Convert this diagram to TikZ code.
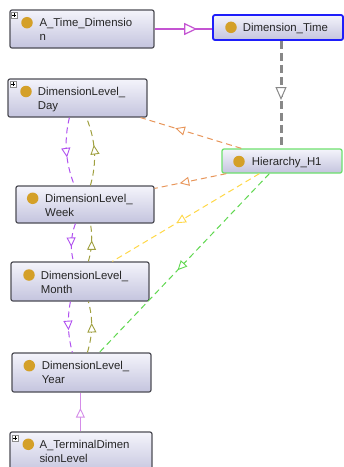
\documentclass[tikz,border=0pt]{standalone}
\usepackage{fontspec}
\setmainfont{Liberation Sans}
\usetikzlibrary{arrows.meta,decorations.markings,calc,fit}

\definecolor{boxtop}{RGB}{244,244,251}
\definecolor{boxbot}{RGB}{196,196,222}
\definecolor{boxline}{RGB}{78,78,86}
\definecolor{dotgold}{RGB}{212,160,40}
\definecolor{subviolet}{RGB}{196,84,210}
\definecolor{termviolet}{RGB}{212,140,232}
\definecolor{dimblue}{RGB}{30,30,250}
\definecolor{hiergreen}{RGB}{110,225,110}
\definecolor{levpurple}{RGB}{176,80,240}
\definecolor{levolive}{RGB}{160,160,64}
\definecolor{hierorange}{RGB}{232,150,90}
\definecolor{hieryellow}{RGB}{255,216,70}
\definecolor{hiergreenln}{RGB}{96,216,80}
\definecolor{typegray}{RGB}{136,136,136}

% one class box: name, corner, corner, box style, dot centre, text corner, text
\newcommand\owlclass[7]{%
  \node[#4, fit={#2 #3}] (#1) {};
  \node[owldot] (#1-dot) at #5 {};
  \node[owltext] (#1-text) at #6 {#7};
}

\tikzset{
  owlbox/.style={rectangle, rounded corners=2pt, draw=boxline, line width=1.2pt,
    top color=boxtop, bottom color=boxbot, inner sep=0pt},
  dimbox/.style={owlbox, draw=dimblue, line width=1.8pt},
  hierbox/.style={owlbox, draw=hiergreen, line width=1.3pt},
  owldot/.style={circle, fill=dotgold, minimum size=11.5pt, inner sep=0pt},
  owltext/.style={anchor=north west, inner sep=0pt, align=left,
    font=\fontsize{11.4}{14}\selectfont, text=black!85},
  plusicon/.style={rectangle, draw=black!45, fill=white, minimum size=6pt, inner sep=0pt,
    line width=0.5pt, path picture={
      \draw[black, line width=0.6pt]
        ([xshift=1pt]path picture bounding box.west) -- ([xshift=-1pt]path picture bounding box.east)
        ([yshift=-1pt]path picture bounding box.north) -- ([yshift=1pt]path picture bounding box.south);}},
  midtip/.style 2 args={postaction={decorate},
    decoration={markings, mark=at position #1 with {\arrow{#2}}}},
  smalltri/.tip={Triangle[length=9.5pt, width=9pt, fill=white, line width=0.9pt]},
  bigtri/.tip={Triangle[length=13pt, width=12pt, fill=white, line width=1.2pt]},
  graytri/.tip={Triangle[length=13pt, width=11pt, fill=white, line width=1pt]},
  subline/.style={draw=subviolet, line width=2.8pt},
  termline/.style={draw=termviolet, line width=1.5pt},
  typeline/.style={draw=typegray, line width=3pt, dash pattern=on 8pt off 4pt},
  hline/.style={line width=1pt, dash pattern=on 6pt off 4pt},
}

\begin{document}
\begin{tikzpicture}[x=1pt, y=-1pt]
\useasboundingbox (0,0) rectangle (344,467);
\fill[white] (0,0) rectangle (344,467);

% classes
\owlclass{atime}{(10,10)}{(154,48)}{owlbox}{(27,22.7)}{(39.3,18.5)}{A\_Time\_Dimensio\\n}
\owlclass{dimtime}{(213,15)}{(343,40)}{dimbox}{(231,27.3)}{(242.7,23.1)}{Dimension\_Time}
\owlclass{day}{(8,79)}{(147,117)}{owlbox}{(26,91.5)}{(37.7,87.4)}{DimensionLevel\_\\Day}
\owlclass{h1}{(222,149)}{(342,173)}{hierbox}{(239,161.5)}{(251.7,157.3)}{Hierarchy\_H1}
\owlclass{week}{(16,186)}{(154,223)}{owlbox}{(32.7,198.3)}{(45,194.1)}{DimensionLevel\_\\Week}
\owlclass{month}{(11,262)}{(149,301)}{owlbox}{(29,275)}{(40.7,270.8)}{DimensionLevel\_\\Month}
\owlclass{year}{(12,353)}{(151,392)}{owlbox}{(29.3,365.7)}{(41.7,361.5)}{DimensionLevel\_\\Year}
\owlclass{term}{(10,432)}{(152,474)}{owlbox}{(28.3,444.3)}{(39.3,440.2)}{A\_TerminalDimen\\sionLevel}

% expand markers
\node[plusicon] (atime-plus) at ($(atime.north west)+(5,6)$) {};
\node[plusicon] (day-plus) at ($(day.north west)+(5.5,6)$) {};
\node[plusicon] (term-plus) at ($(term.north west)+(5.5,6.5)$) {};

% subclass link and type link
\draw[subline, midtip={0.74}{bigtri}] (atime.east) -- (atime.east -| dimtime.west);
\coordinate (tp) at ($(dimtime.south)+(3,0)$);
\draw[typeline, midtip={0.55}{graytri}] (tp) -- (tp |- h1.north);

% hierarchy to its levels
\draw[hline, hierorange, midtip={0.655}{smalltri}]
  ($(h1.north west)+(20,0)$) -- ($(day.south east)+(-7,0)$);
\draw[hline, hierorange, midtip={0.65}{smalltri}]
  ($(h1.south west)+(5,0)$) -- ($(week.north east)+(0,3)$);
\draw[hline, hieryellow, midtip={0.565}{smalltri}]
  ($(h1.south west)+(38,0)$) -- ($(month.north west)+(102,0)$);
\draw[hline, hiergreenln, midtip={0.54}{smalltri}]
  ($(h1.south west)+(48,0)$) -- ($(year.north west)+(88,0)$);

% rolls up to / drills down to between levels
\draw[hline, levpurple, midtip={0.58}{smalltri}]
  ($(day.south west)+(62,0)$) .. controls +(-5.6,23) and +(-9,-23) .. ($(week.north west)+(59,0)$);
\draw[hline, levolive, midtip={0.59}{smalltri}]
  ($(week.north west)+(75,0)$) .. controls +(6.7,-23) and +(9.3,23) .. ($(day.south west)+(79,0)$);
\draw[hline, levpurple, midtip={0.62}{smalltri}]
  ($(week.south west)+(60,0)$) .. controls +(-4.7,13) and +(-3.3,-13) .. ($(month.north west)+(63,0)$);
\draw[hline, levolive, midtip={0.56}{smalltri}]
  ($(month.north west)+(78,0)$) .. controls +(3.7,-13) and +(2.3,13) .. ($(week.south west)+(75,0)$);
\draw[hline, levpurple, midtip={0.56}{smalltri}]
  ($(month.south west)+(60,0)$) .. controls +(-3.3,17.3) and +(-4.7,-17.3) .. ($(year.north west)+(61,0)$);
\draw[hline, levolive, midtip={0.58}{smalltri}]
  ($(year.north west)+(76,0)$) .. controls +(5.3,-17.3) and +(4.7,17.3) .. ($(month.south west)+(78,0)$);

% terminal level
\coordinate (tt) at ($(term.north west)+(71,0)$);
\draw[termline, midtip={0.6}{smalltri}] (tt) -- (tt |- year.south);
\end{tikzpicture}
\end{document}
